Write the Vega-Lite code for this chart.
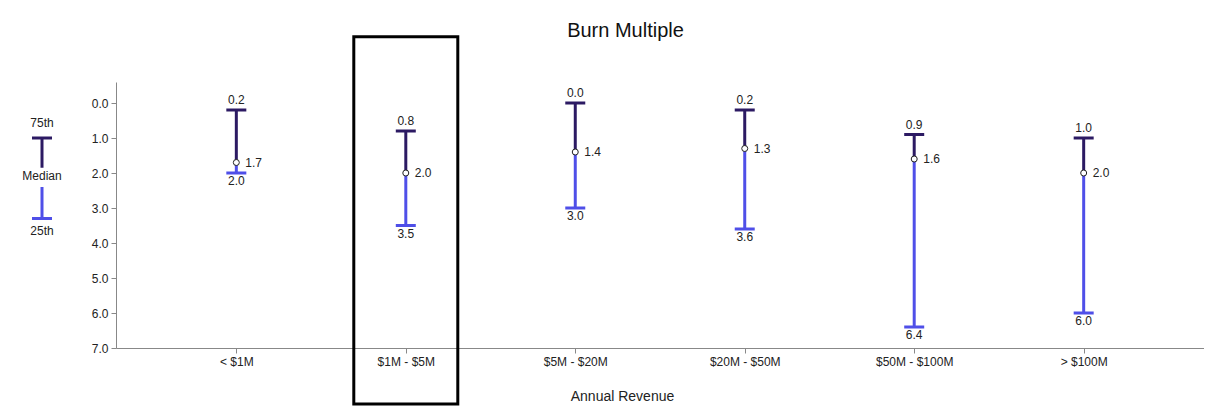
{
  "$schema": "https://vega.github.io/schema/vega-lite/v6.json",
  "padding": {"left": 17, "top": 21, "right": 0, "bottom": 0},
  "background": "white",
  "title": {"text": "Burn Multiple", "fontSize": 20, "font": "Liberation Sans", "fontWeight": "normal", "color": "#111", "anchor": "middle", "offset": -6, "dx": 15},
  "config": {
    "font": "Liberation Sans",
    "view": {"stroke": null},
    "axis": {"labelFontSize": 12, "labelColor": "#222", "domainColor": "#888", "tickColor": "#888", "grid": false, "tickSize": 5, "labelPadding": 3, "titleFontSize": 14, "titleFontWeight": "normal", "titleColor": "#222"}
  },
  "datasets": {
    "main": [
      {"rev": "< $1M", "p75": 0.2, "med": 1.7, "p25": 2.0},
      {"rev": "$1M - $5M", "p75": 0.8, "med": 2.0, "p25": 3.5},
      {"rev": "$5M - $20M", "p75": 0.0, "med": 1.4, "p25": 3.0},
      {"rev": "$20M - $50M", "p75": 0.2, "med": 1.3, "p25": 3.6},
      {"rev": "$50M - $100M", "p75": 0.9, "med": 1.6, "p25": 6.4},
      {"rev": "> $100M", "p75": 1.0, "med": 2.0, "p25": 6.0}
    ],
    "highlight": [{"rev": "$1M - $5M", "y1": -1.89, "y2": 8.6}],
    "legendSeg": [
      {"k": "a", "s": "top", "y1": 1.0, "y2": 1.85, "cap": 1.0},
      {"k": "a", "s": "bottom", "y1": 2.4, "y2": 3.3, "cap": 3.3}
    ],
    "legendText": [
      {"k": "a", "t": "75th", "y": 0.57},
      {"k": "a", "t": "Median", "y": 2.09},
      {"k": "a", "t": "25th", "y": 3.66}
    ]
  },
  "hconcat": [
    {
      "width": 50,
      "height": 266,
      "layer": [
        {
          "data": {"name": "legendSeg"},
          "mark": {"type": "rule", "strokeWidth": 3},
          "encoding": {
            "x": {"field": "k", "type": "nominal", "scale": {"type": "point", "padding": 0.5}, "axis": null},
            "y": {"field": "y1", "type": "quantitative", "scale": {"domain": [-0.6, 7], "reverse": true, "nice": false, "zero": false}, "axis": null},
            "y2": {"field": "y2"},
            "color": {"field": "s", "type": "nominal", "scale": {"domain": ["top", "bottom"], "range": ["#2c1a63", "#4f4fe8"]}, "legend": null}
          }
        },
        {
          "data": {"name": "legendSeg"},
          "mark": {"type": "tick", "size": 20, "thickness": 3, "orient": "horizontal", "opacity": 1},
          "encoding": {
            "x": {"field": "k", "type": "nominal", "scale": {"type": "point", "padding": 0.5}, "axis": null},
            "y": {"field": "cap", "type": "quantitative", "axis": null},
            "color": {"field": "s", "type": "nominal", "scale": {"domain": ["top", "bottom"], "range": ["#2c1a63", "#4f4fe8"]}, "legend": null}
          }
        },
        {
          "data": {"name": "legendText"},
          "mark": {"type": "text", "fontSize": 12, "color": "#222", "baseline": "middle", "align": "center"},
          "encoding": {
            "x": {"field": "k", "type": "nominal", "scale": {"type": "point", "padding": 0.5}, "axis": null},
            "y": {"field": "y", "type": "quantitative", "axis": null},
            "text": {"field": "t"}
          }
        }
      ]
    },
    {
      "width": 1088,
      "height": 266,
      "encoding": {
        "x": {"field": "rev", "type": "nominal",
          "sort": ["< $1M", "$1M - $5M", "$5M - $20M", "$20M - $50M", "$50M - $100M", "> $100M"],
          "scale": {"type": "point", "padding": 0.71},
          "axis": {"title": "Annual Revenue", "labelAngle": 0, "titlePadding": 22, "titleX": 506}}
      },
      "layer": [
        {
          "data": {"name": "highlight"},
          "mark": {"type": "bar", "width": 104, "fillOpacity": 0, "stroke": "black", "strokeWidth": 3},
          "encoding": {
            "y": {"field": "y1", "type": "quantitative", "scale": {"domain": [-0.6, 7], "reverse": true, "nice": false, "zero": false},
              "axis": {"values": [0, 1, 2, 3, 4, 5, 6, 7], "format": ".1f", "title": null, "labelOverlap": false}},
            "y2": {"field": "y2"}
          }
        },
        {
          "data": {"name": "main"},
          "mark": {"type": "rule", "strokeWidth": 3, "color": "#2c1a63"},
          "encoding": {"y": {"field": "p75", "type": "quantitative", "axis": {"values": [0, 1, 2, 3, 4, 5, 6, 7], "format": ".1f", "title": null, "labelOverlap": false}}, "y2": {"field": "med"}}
        },
        {
          "data": {"name": "main"},
          "mark": {"type": "rule", "strokeWidth": 3, "color": "#4f4fe8"},
          "encoding": {"y": {"field": "med", "type": "quantitative", "axis": {"values": [0, 1, 2, 3, 4, 5, 6, 7], "format": ".1f", "title": null, "labelOverlap": false}}, "y2": {"field": "p25"}}
        },
        {
          "data": {"name": "main"},
          "mark": {"type": "tick", "size": 20, "thickness": 3, "orient": "horizontal", "color": "#2c1a63", "opacity": 1},
          "encoding": {"y": {"field": "p75", "type": "quantitative", "axis": {"values": [0, 1, 2, 3, 4, 5, 6, 7], "format": ".1f", "title": null, "labelOverlap": false}}}
        },
        {
          "data": {"name": "main"},
          "mark": {"type": "tick", "size": 20, "thickness": 3, "orient": "horizontal", "color": "#4f4fe8", "opacity": 1},
          "encoding": {"y": {"field": "p25", "type": "quantitative", "axis": {"values": [0, 1, 2, 3, 4, 5, 6, 7], "format": ".1f", "title": null, "labelOverlap": false}}}
        },
        {
          "data": {"name": "main"},
          "mark": {"type": "point", "filled": true, "fill": "white", "stroke": "#222", "strokeWidth": 1, "size": 36, "opacity": 1},
          "encoding": {"y": {"field": "med", "type": "quantitative", "axis": {"values": [0, 1, 2, 3, 4, 5, 6, 7], "format": ".1f", "title": null, "labelOverlap": false}}}
        },
        {
          "data": {"name": "main"},
          "mark": {"type": "text", "fontSize": 12, "color": "#222", "baseline": "bottom", "dy": -3},
          "encoding": {"y": {"field": "p75", "type": "quantitative", "axis": {"values": [0, 1, 2, 3, 4, 5, 6, 7], "format": ".1f", "title": null, "labelOverlap": false}}, "text": {"field": "p75", "format": ".1f"}}
        },
        {
          "data": {"name": "main"},
          "mark": {"type": "text", "fontSize": 12, "color": "#222", "baseline": "top", "dy": 3},
          "encoding": {"y": {"field": "p25", "type": "quantitative", "axis": {"values": [0, 1, 2, 3, 4, 5, 6, 7], "format": ".1f", "title": null, "labelOverlap": false}}, "text": {"field": "p25", "format": ".1f"}}
        },
        {
          "data": {"name": "main"},
          "mark": {"type": "text", "fontSize": 12, "color": "#222", "baseline": "middle", "align": "left", "dx": 9},
          "encoding": {"y": {"field": "med", "type": "quantitative", "axis": {"values": [0, 1, 2, 3, 4, 5, 6, 7], "format": ".1f", "title": null, "labelOverlap": false}}, "text": {"field": "med", "format": ".1f"}}
        }
      ]
    }
  ],
  "spacing": 24
}
